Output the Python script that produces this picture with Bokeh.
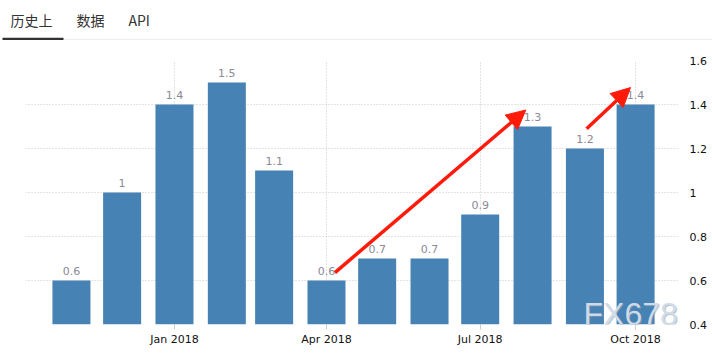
from datetime import datetime, timedelta
from bokeh.plotting import figure
from bokeh.layouts import column
from bokeh.models import Range1d, ColumnDataSource, Arrow, NormalHead, Label, DatetimeTickFormatter, FixedTicker
from bokeh.core.properties import value
from bokeh.embed import file_html
from bokeh.resources import INLINE

# ---- data ----
months = ["2017-11", "2017-12", "2018-01", "2018-02", "2018-03", "2018-04",
          "2018-05", "2018-06", "2018-07", "2018-08", "2018-09", "2018-10"]
values = [0.6, 1.0, 1.4, 1.5, 1.1, 0.6, 0.7, 0.7, 0.9, 1.3, 1.2, 1.4]
labels = ["0.6", "1", "1.4", "1.5", "1.1", "0.6", "0.7", "0.7", "0.9", "1.3", "1.2", "1.4"]
x_ticks = ["2018-01", "2018-04", "2018-07", "2018-10"]
y_ticks = [0.4, 0.6, 0.8, 1.0, 1.2, 1.4, 1.6]
tabs = ["历史上", "数据", "API"]
watermark = "FX678"

dates = [datetime.strptime(m, "%Y-%m") for m in months]
tick_dates = [datetime.strptime(m, "%Y-%m") for m in x_ticks]

W = 712
BL, BR = 25, 34

# ---- tabs header ----
head = figure(width=W, height=40, x_range=Range1d(BL, W - BR), y_range=Range1d(40, 0),
              toolbar_location=None, output_backend="svg",
              min_border_top=0, min_border_bottom=0, min_border_left=BL, min_border_right=BR,
              x_axis_location=None, y_axis_location=None)
head.grid.visible = False
head.outline_line_color = None
tab_x = [10, 76, 128]
head.text(x=tab_x, y=[19] * 3, text=tabs, text_font=value("Noto Sans CJK SC"),
          text_font_size="14px", text_color="#333333", text_baseline="middle",
          level="overlay")
head.segment(x0=[63], y0=[39.5], x1=[W], y1=[39.5], line_color="#dddddd", line_width=1,
             level="overlay")
head.segment(x0=[2], y0=[38.5], x1=[63], y1=[38.5], line_color="#333333", line_width=2.5,
             level="overlay")

# ---- main chart ----
day = 86400000
x_start = datetime(2018, 1, 1) - timedelta(days=88.2)
x_end = x_start + timedelta(days=386.6)

p = figure(width=W, height=315, x_axis_type="datetime",
           x_range=Range1d(x_start, x_end), y_range=Range1d(0.4, 1.6),
           toolbar_location=None, output_backend="svg",
           min_border_top=20, min_border_bottom=31, min_border_left=BL, min_border_right=BR,
           y_axis_location="right")
p.outline_line_color = None

src = ColumnDataSource(dict(x=dates, top=values, lab=labels))
p.vbar(x="x", top="top", bottom=0.4, width=22.5 * day, source=src,
       fill_color="#4682b4", line_color=None)
p.text(x="x", y="top", text="lab", source=src, y_offset=-6,
       text_align="center", text_baseline="bottom", text_font=value("DejaVu Sans"),
       text_font_size="11px", text_color="#8a8a96")

# axes
p.xaxis.ticker = FixedTicker(ticks=[d.timestamp() * 1000 for d in tick_dates])
p.xaxis.formatter = DatetimeTickFormatter(months="%b %Y", days="%b %Y", years="%b %Y")
p.xaxis.axis_line_color = None
p.xaxis.major_tick_line_color = "#cccccc"
p.xaxis.major_tick_in = 0
p.xaxis.major_tick_out = 5
p.xaxis.minor_tick_line_color = None
p.xaxis.major_label_standoff = 3
p.yaxis.ticker = FixedTicker(ticks=y_ticks)
p.yaxis.axis_line_color = None
p.yaxis.major_tick_line_color = None
p.yaxis.minor_tick_line_color = None
p.yaxis.major_label_standoff = 5
for ax in (p.xaxis, p.yaxis):
    ax.major_label_text_font = "DejaVu Sans"
    ax.major_label_text_font_size = "11px"
    ax.major_label_text_color = "#111111"

p.xgrid.ticker = p.xaxis.ticker
p.ygrid.ticker = p.yaxis.ticker
for g in (p.xgrid, p.ygrid):
    g.grid_line_color = "#c8c8c8"
    g.grid_line_dash = "1 2"
    g.grid_line_width = 1

# red arrows (annotation)
red = "#ff1a0a"
p.add_layout(Arrow(end=NormalHead(size=19, fill_color=red, line_color=red),
                   x_start=dates[5] + timedelta(days=5), y_start=values[5] + 0.036,
                   x_end=dates[9] - timedelta(days=4), y_end=values[9] + 0.075,
                   line_color=red, line_width=3.5))
p.add_layout(Arrow(end=NormalHead(size=19, fill_color=red, line_color=red),
                   x_start=dates[10] + timedelta(days=1), y_start=values[10] + 0.09,
                   x_end=dates[11] - timedelta(days=3), y_end=values[11] + 0.077,
                   line_color=red, line_width=3.5))

# watermark (shadow + face)
p.add_layout(Label(x=559, y=-8, x_units="screen", y_units="screen", text=watermark,
                   text_font="Liberation Sans", text_font_size="32px",
                   text_color="#8c9cb0", text_alpha=0.6, text_baseline="bottom"))
p.add_layout(Label(x=558, y=-7, x_units="screen", y_units="screen", text=watermark,
                   text_font="Liberation Sans", text_font_size="32px",
                   text_color="#d2dde9", text_alpha=0.97, text_baseline="bottom"))

layout = column(head, p, spacing=0)
open("out.html", "w").write(file_html(layout, INLINE))
